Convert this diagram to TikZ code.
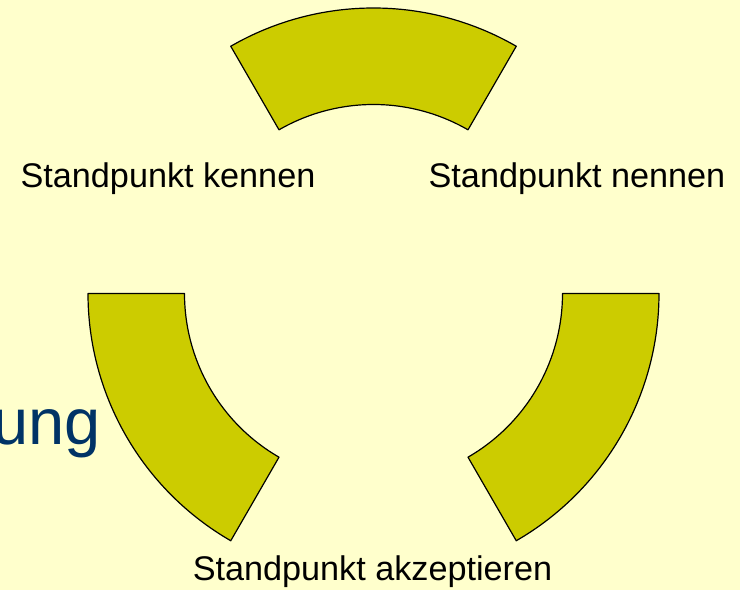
\documentclass[tikz,border=0pt]{standalone}
\usepackage{fontspec}
\setmainfont{Liberation Sans}
\definecolor{bgyellow}{HTML}{FFFFCC}
\definecolor{olive}{HTML}{CCCC00}
\definecolor{darkblue}{HTML}{003366}
\begin{document}
\begin{tikzpicture}[x=1pt,y=1pt,
  sector/.style={fill=olive,draw=black,line width=1.2pt,line join=round},
  label/.style={inner sep=0pt,anchor=base,font=\fontsize{34.2}{40}\selectfont,text=black}]
\useasboundingbox (0,0) rectangle (740,590);
\fill[bgyellow] (0,0) rectangle (740,590);
\coordinate (c) at (373.5,296.5);
\def\Ro{285.5}
\def\Ri{189}
% top sector
\draw[sector] ([shift={(60:\Ro)}]c) arc[start angle=60,end angle=120,radius=\Ro]
  -- ([shift={(120:\Ri)}]c) arc[start angle=120,end angle=60,radius=\Ri] -- cycle;
% left sector
\draw[sector] ([shift={(180:\Ro)}]c) arc[start angle=180,end angle=240,radius=\Ro]
  -- ([shift={(240:\Ri)}]c) arc[start angle=240,end angle=180,radius=\Ri] -- cycle;
% right sector
\draw[sector] ([shift={(300:\Ro)}]c) arc[start angle=300,end angle=360,radius=\Ro]
  -- ([shift={(360:\Ri)}]c) arc[start angle=360,end angle=300,radius=\Ri] -- cycle;
\node[label] (kennen) at (168,402) {Standpunkt kennen};
\node[label] (nennen) at (577,402) {Standpunkt nennen};
\node[label] (akzept) at (372.5,10) {Standpunkt akzeptieren};
\node[inner sep=0pt,anchor=base east,font=\fontsize{65}{70}\selectfont,text=darkblue] (ung) at (101,146) {ung};
\end{tikzpicture}
\end{document}
